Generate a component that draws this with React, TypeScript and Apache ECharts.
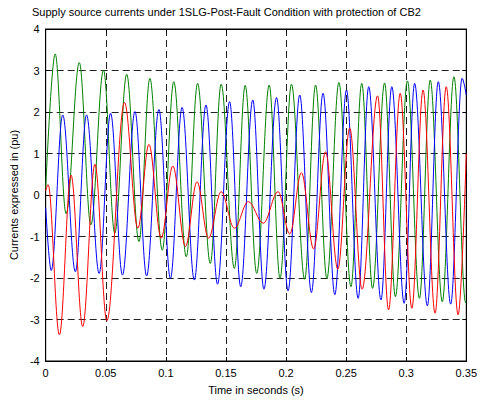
import React, { useEffect, useRef } from "react";
import * as echarts from "echarts";

const titleText =
  "Supply source currents under 1SLG-Post-Fault Condition with protection of CB2";
const xAxisName = "Time in seconds (s)";
const yAxisName = "Currents expressed in (pu)";

const xMin = 0;
const xMax = 0.35;
const xStep = 0.05;
const yMin = -4;
const yMax = 4;
const yStep = 1;

// Green phase: extremes (time s, current pu)
const greenT = [
  0, 0.0079, 0.017, 0.028, 0.0376, 0.0481, 0.0575, 0.0674, 0.0776, 0.0867,
  0.097, 0.1066, 0.117, 0.1264, 0.137, 0.146, 0.157, 0.166, 0.1756, 0.186,
  0.195, 0.2045, 0.2155, 0.2246, 0.234, 0.244, 0.254, 0.263, 0.272, 0.282,
  0.291, 0.301, 0.311, 0.32, 0.33, 0.3397, 0.3495, 0.35,
];
const greenV = [
  0.15, 3.4, -0.45, 3.19, -0.72, 3.01, -0.92, 2.91, -1.12, 2.81, -1.33, 2.73,
  -1.49, 2.69, -1.65, 2.67, -1.77, 2.64, -1.89, 2.65, -2.01, 2.67, -2.03, 2.65,
  -2.01, 2.71, -2.21, 2.69, -2.25, 2.7, -2.45, 2.75, -2.49, 2.77, -2.57, 2.85,
  -2.6, -2.58,
];

// Blue phase
const blueT = [
  0, 0.0046, 0.0142, 0.0247, 0.034, 0.0445, 0.054, 0.0639, 0.0743, 0.084,
  0.0942, 0.1038, 0.1135, 0.1237, 0.1334, 0.143, 0.153, 0.1623, 0.1723, 0.1816,
  0.1921, 0.2017, 0.2114, 0.2211, 0.2308, 0.2406, 0.2503, 0.26, 0.2688, 0.279,
  0.288, 0.2983, 0.307, 0.3176, 0.3267, 0.337, 0.3465, 0.35,
];
const blueV = [
  -0.3, -1.82, 1.93, -1.85, 1.93, -1.89, 1.97, -1.93, 2.01, -1.95, 2.06, -2.01,
  2.11, -2.05, 2.17, -2.15, 2.25, -2.21, 2.29, -2.27, 2.35, -2.31, 2.41, -2.35,
  2.45, -2.4, 2.53, -2.49, 2.61, -2.53, 2.61, -2.61, 2.69, -2.67, 2.73, -2.63,
  2.81, 2.4,
];

// Red phase
const redT = [
  0, 0.002, 0.0114, 0.0211, 0.0308, 0.041, 0.0509, 0.0656, 0.0767, 0.0859,
  0.0961, 0.1058, 0.1163, 0.1259, 0.1355, 0.146, 0.157, 0.1686, 0.181, 0.1934,
  0.2031, 0.2128, 0.223, 0.2329, 0.2431, 0.253, 0.2633, 0.2762, 0.2853, 0.295,
  0.3047, 0.314, 0.324, 0.3333, 0.3432, 0.35,
];
const redV = [
  0.1, 0.25, -3.37, 0.48, -3.17, 0.74, -3.03, 2.23, -0.8, 1.22, -1.04, 0.7,
  -1.24, 0.32, -1.04, 0.08, -0.8, -0.16, -0.68, 0.08, -0.94, 0.54, -1.3, 1.04,
  -1.79, 1.61, -2.27, 2.39, -2.77, 2.45, -2.73, 2.53, -2.85, 2.61, -2.89, 1.0,
];

const zip = (t: number[], v: number[]) => t.map((x, i) => [x, v[i]]);

const FONT = "'Liberation Sans', Arial, sans-serif";

export default function App() {
  const ref = useRef<HTMLDivElement>(null);

  useEffect(() => {
    document.body.style.margin = "0";
    if (!ref.current) return;
    const chart = echarts.init(ref.current, undefined, { renderer: "svg" });

    const lineSeries = (name: string, color: string, data: number[][]) => ({
      name,
      type: "line",
      data,
      smooth: 0.36,
      smoothMonotone: "x",
      symbol: "none",
      showSymbol: false,
      lineStyle: { color, width: 1 },
      itemStyle: { color },
      z: 3,
    });

    const baseX = {
      type: "value",
      min: xMin,
      max: xMax,
      interval: xStep,
    };
    const baseY = {
      type: "value",
      min: yMin,
      max: yMax,
      interval: yStep,
    };
    const tick = { show: true, inside: true, length: 4, lineStyle: { color: "#000" } };
    const line = { show: true, onZero: false, lineStyle: { color: "#000", width: 1 } };
    const grid = {
      show: true,
      lineStyle: { color: "#222", width: 1, type: [7, 4] },
    };

    chart.setOption({
      animation: false,
      backgroundColor: "#fff",
      grid: {
        left: 44.5,
        right: 13,
        top: 29,
        bottom: 42,
        show: true,
        borderColor: "#000",
        borderWidth: 1,
        backgroundColor: "#fff",
        containLabel: false,
      },
      graphic: [
        {
          type: "text",
          left: 32,
          top: 6,
          style: {
            text: titleText,
            font: `11px ${FONT}`,
            fill: "#000",
          },
        },
      ],
      xAxis: [
        {
          ...baseX,
          position: "bottom",
          name: xAxisName,
          nameLocation: "middle",
          nameGap: 23,
          nameTextStyle: { color: "#000", fontSize: 11, fontFamily: FONT },
          axisLine: line,
          axisTick: tick,
          axisLabel: { color: "#000", fontSize: 11, fontFamily: FONT, margin: 6 },
          splitLine: grid,
        },
        {
          ...baseX,
          position: "top",
          axisLine: line,
          axisTick: tick,
          axisLabel: { show: false },
          splitLine: { show: false },
        },
      ],
      yAxis: [
        {
          ...baseY,
          position: "left",
          name: yAxisName,
          nameLocation: "middle",
          nameGap: 26,
          nameRotate: 90,
          nameTextStyle: { color: "#000", fontSize: 11, fontFamily: FONT },
          axisLine: line,
          axisTick: tick,
          axisLabel: { color: "#000", fontSize: 11, fontFamily: FONT, margin: 6 },
          splitLine: grid,
        },
        {
          ...baseY,
          position: "right",
          axisLine: line,
          axisTick: tick,
          axisLabel: { show: false },
          splitLine: { show: false },
        },
      ],
      series: [
        lineSeries("Green", "#008000", zip(greenT, greenV)),
        lineSeries("Blue", "#0000ff", zip(blueT, blueV)),
        lineSeries("Red", "#ff0000", zip(redT, redV)),
      ],
    });

    return () => chart.dispose();
  }, []);

  return <div ref={ref} style={{ width: 480, height: 403 }} />;
}
